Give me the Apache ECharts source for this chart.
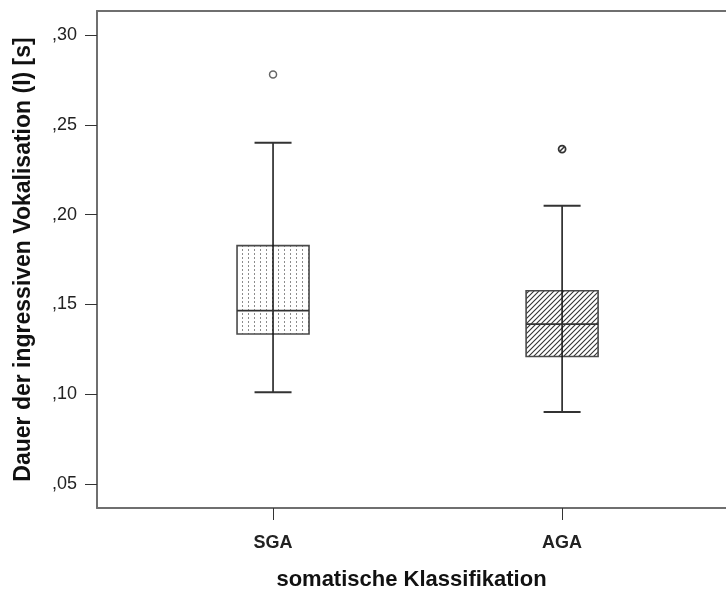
<!DOCTYPE html>
<html>
<head>
<meta charset="utf-8">
<script src="https://cdn.jsdelivr.net/npm/echarts@6/dist/echarts.min.js"></script>
<style>html,body{margin:0;padding:0;background:#fff}#c{width:726px;height:590px}</style>
</head>
<body>
<div id="c"></div>
<script>
// ---- data ----
var categories = ['SGA', 'AGA'];
var categoryPos = [1, 2];
var whiskerLow = [0.101, 0.090];
var quartile1 = [0.1335, 0.121];
var medians = [0.1465, 0.139];
var quartile3 = [0.1827, 0.1576];
var whiskerHigh = [0.240, 0.205];
var outlierCategory = [0, 1];
var outlierValue = [0.278, 0.2365];
var yTickValues = [0.05, 0.10, 0.15, 0.20, 0.25, 0.30];

// ---- patterns ----
function dotPattern() {
  var c = document.createElement('canvas'); c.width = 6; c.height = 4;
  var g = c.getContext('2d');
  g.fillStyle = '#fff'; g.fillRect(0, 0, 6, 4);
  g.fillStyle = '#8c8c8c'; g.fillRect(2, 1, 1, 2);
  return c;
}
function hatchPattern() {
  var c = document.createElement('canvas'); c.width = 5; c.height = 5;
  var g = c.getContext('2d');
  g.fillStyle = '#fff'; g.fillRect(0, 0, 5, 5);
  g.strokeStyle = '#333'; g.lineWidth = 1.1;
  g.beginPath();
  g.moveTo(-1, 6); g.lineTo(6, -1);
  g.moveTo(-1, 1); g.lineTo(1, -1);
  g.moveTo(4, 6); g.lineTo(6, 4);
  g.stroke();
  return c;
}
var fills = [{ image: dotPattern(), repeat: 'repeat' }, { image: hatchPattern(), repeat: 'repeat' }];

var boxData = categories.map(function (c, i) {
  return [categoryPos[i], whiskerLow[i], quartile1[i], medians[i], quartile3[i], whiskerHigh[i], i];
});
var outData = outlierCategory.map(function (ci, k) {
  return [categoryPos[ci], outlierValue[k], ci];
});

var FONT = 'Liberation Sans, Arial, sans-serif';
var chart = echarts.init(document.getElementById('c'), null, { renderer: 'canvas' });
var axisCol = '#6f6f6f';
chart.setOption({
  animation: false,
  backgroundColor: '#fff',
  grid: { left: 97, right: 0, top: 11, bottom: 82, outerBoundsMode: 'none', containLabel: false },
  xAxis: [{
    type: 'value', min: 0.391, max: 2.567,
    splitLine: { show: false },
    axisLine: { show: true, onZero: false, lineStyle: { color: axisCol, width: 2 } },
    axisTick: { show: true, customValues: categoryPos, length: 12, lineStyle: { color: '#333', width: 1 } },
    axisLabel: {
      customValues: categoryPos, margin: 26,
      formatter: function (v) { var i = categoryPos.indexOf(Math.round(v)); return i >= 0 ? categories[i] : ''; },
      fontFamily: FONT, fontSize: 18, fontWeight: 'bold', color: '#222'
    },
    name: 'somatische Klassifikation', nameLocation: 'middle', nameGap: 61,
    nameTextStyle: { fontFamily: FONT, fontSize: 22, fontWeight: 'bold', color: '#111' }
  }, {
    type: 'value', position: 'top', min: 0.391, max: 2.567,
    splitLine: { show: false },
    axisLine: { show: true, onZero: false, lineStyle: { color: axisCol, width: 2 } },
    axisTick: { show: false }, axisLabel: { show: false }
  }],
  yAxis: {
    type: 'value', min: 0.0366, max: 0.3134,
    splitLine: { show: false },
    axisLine: { show: true, onZero: false, lineStyle: { color: axisCol, width: 2 } },
    axisTick: { show: true, customValues: yTickValues, length: 12, lineStyle: { color: '#333', width: 1 } },
    axisLabel: {
      customValues: yTickValues, margin: 20,
      formatter: function (v) { return ',' + Math.round(v * 100).toString().padStart(2, '0'); },
      fontFamily: FONT, fontSize: 18, color: '#222'
    },
    name: 'Dauer der ingressiven Vokalisation (I) [s]', nameLocation: 'middle', nameGap: 62,
    nameTextStyle: { fontFamily: FONT, fontSize: 23, fontWeight: 'bold', color: '#111' }
  },
  series: [{
    type: 'custom',
    data: boxData,
    encode: { x: 0, y: [1, 2, 3, 4, 5] },
    renderItem: function (params, api) {
      var x = api.value(0);
      var idx = api.value(6);
      var pLow = api.coord([x, api.value(1)]);
      var pQ1 = api.coord([x, api.value(2)]);
      var pMed = api.coord([x, api.value(3)]);
      var pQ3 = api.coord([x, api.value(4)]);
      var pHigh = api.coord([x, api.value(5)]);
      var cx = pLow[0];
      var bw = 72, cw = 37;
      return {
        type: 'group',
        children: [
          { type: 'rect', shape: { x: cx - bw / 2, y: pQ3[1], width: bw, height: pQ1[1] - pQ3[1] },
            style: { fill: fills[idx], stroke: '#4a4a4a', lineWidth: 1.6 } },
          { type: 'line', shape: { x1: cx, y1: pLow[1], x2: cx, y2: pHigh[1] },
            style: { stroke: '#111', lineWidth: 1.5 } },
          { type: 'line', shape: { x1: cx - bw / 2, y1: pMed[1], x2: cx + bw / 2, y2: pMed[1] },
            style: { stroke: '#333', lineWidth: 1.8 } },
          { type: 'line', shape: { x1: cx - cw / 2, y1: pHigh[1], x2: cx + cw / 2, y2: pHigh[1] },
            style: { stroke: '#333', lineWidth: 2 } },
          { type: 'line', shape: { x1: cx - cw / 2, y1: pLow[1], x2: cx + cw / 2, y2: pLow[1] },
            style: { stroke: '#333', lineWidth: 2 } }
        ]
      };
    }
  }, {
    type: 'custom',
    data: outData,
    encode: { x: 0, y: 1 },
    renderItem: function (params, api) {
      var p = api.coord([api.value(0), api.value(1)]);
      var kind = api.value(2);
      var children = [
        { type: 'circle', shape: { cx: p[0], cy: p[1], r: 3.5 },
          style: { fill: '#fff', stroke: kind === 0 ? '#666' : '#333', lineWidth: kind === 0 ? 1.5 : 1.8 } }
      ];
      if (kind === 1) {
        children.push({ type: 'line', shape: { x1: p[0] - 2.5, y1: p[1] + 2.5, x2: p[0] + 2.5, y2: p[1] - 2.5 },
          style: { stroke: '#333', lineWidth: 1.5 } });
      }
      return { type: 'group', children: children };
    }
  }]
});
</script>
</body>
</html>
